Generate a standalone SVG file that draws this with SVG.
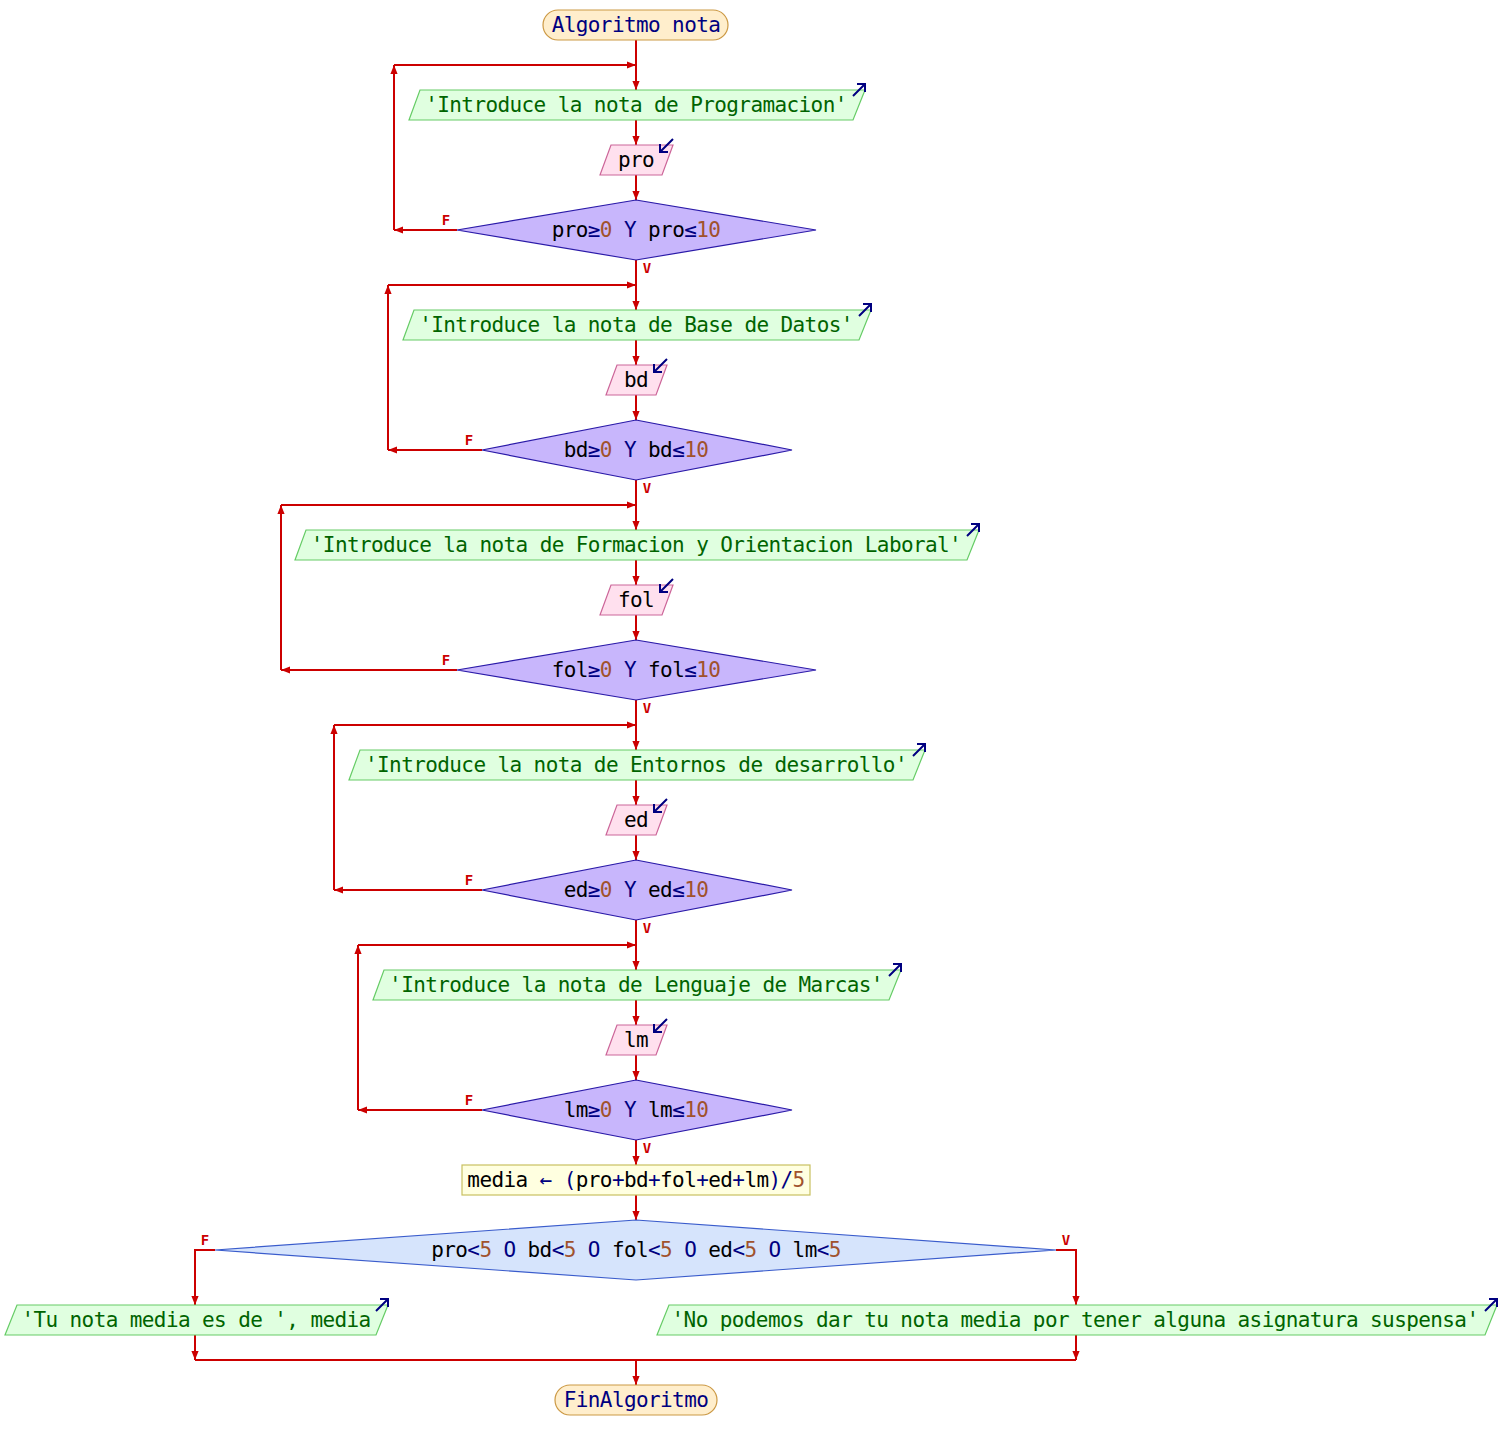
<svg xmlns="http://www.w3.org/2000/svg" width="1500" height="1450" viewBox="0 0 1500 1450">
<style>
text{font-family:"DejaVu Sans Mono","Liberation Mono",monospace;font-size:21px;letter-spacing:-0.6px;text-anchor:middle}
.term{fill:#ffeecc;stroke:#cc9944;stroke-width:1.2}
.tt{fill:#000080}
.out{fill:#e0ffe0;stroke:#66cc66;stroke-width:1.2}
.ot{fill:#006400}
.in{fill:#ffe0ee;stroke:#cc6699;stroke-width:1.2}
.it{fill:#000000}
.dec{fill:#c8b6fc;stroke:#2a1aa8;stroke-width:1.2}
.dec2{fill:#d6e4fc;stroke:#3a5ccc;stroke-width:1.2}
.proc{fill:#ffffe0;stroke:#c8c060;stroke-width:1.2}
.op{fill:#000080}
.num{fill:#a0522d}
.icon{fill:none;stroke:#000080;stroke-width:2}
.c line,.c polyline{fill:none;stroke:#cc0000;stroke-width:2}
.lbl{fill:#cc0000;font-size:14px;letter-spacing:0;font-weight:bold}
</style>
<defs>
<marker id="a" viewBox="0 0 10 10" refX="10" refY="5" markerWidth="9" markerHeight="9" orient="auto" markerUnits="userSpaceOnUse">
<path d="M0,1 L10,5 L0,9 z" fill="#cc0000"/>
</marker>
</defs>

<g id="connectors" class="c">
<line x1="636" y1="40" x2="636" y2="90" marker-end="url(#a)"/>
<line x1="636" y1="120" x2="636" y2="145" marker-end="url(#a)"/>
<line x1="636" y1="175" x2="636" y2="200" marker-end="url(#a)"/>
<line x1="457" y1="230" x2="394" y2="230" marker-end="url(#a)"/>
<line x1="394" y1="230" x2="394" y2="65" marker-end="url(#a)"/>
<line x1="394" y1="65" x2="636" y2="65" marker-end="url(#a)"/>

<line x1="636" y1="260" x2="636" y2="310" marker-end="url(#a)"/>
<line x1="636" y1="340" x2="636" y2="365" marker-end="url(#a)"/>
<line x1="636" y1="395" x2="636" y2="420" marker-end="url(#a)"/>
<line x1="482" y1="450" x2="388" y2="450" marker-end="url(#a)"/>
<line x1="388" y1="450" x2="388" y2="285" marker-end="url(#a)"/>
<line x1="388" y1="285" x2="636" y2="285" marker-end="url(#a)"/>

<line x1="636" y1="480" x2="636" y2="530" marker-end="url(#a)"/>
<line x1="636" y1="560" x2="636" y2="585" marker-end="url(#a)"/>
<line x1="636" y1="615" x2="636" y2="640" marker-end="url(#a)"/>
<line x1="457" y1="670" x2="281" y2="670" marker-end="url(#a)"/>
<line x1="281" y1="670" x2="281" y2="505" marker-end="url(#a)"/>
<line x1="281" y1="505" x2="636" y2="505" marker-end="url(#a)"/>

<line x1="636" y1="700" x2="636" y2="750" marker-end="url(#a)"/>
<line x1="636" y1="780" x2="636" y2="805" marker-end="url(#a)"/>
<line x1="636" y1="835" x2="636" y2="860" marker-end="url(#a)"/>
<line x1="482" y1="890" x2="334" y2="890" marker-end="url(#a)"/>
<line x1="334" y1="890" x2="334" y2="725" marker-end="url(#a)"/>
<line x1="334" y1="725" x2="636" y2="725" marker-end="url(#a)"/>

<line x1="636" y1="920" x2="636" y2="970" marker-end="url(#a)"/>
<line x1="636" y1="1000" x2="636" y2="1025" marker-end="url(#a)"/>
<line x1="636" y1="1055" x2="636" y2="1080" marker-end="url(#a)"/>
<line x1="482" y1="1110" x2="358" y2="1110" marker-end="url(#a)"/>
<line x1="358" y1="1110" x2="358" y2="945" marker-end="url(#a)"/>
<line x1="358" y1="945" x2="636" y2="945" marker-end="url(#a)"/>

<line x1="636" y1="1140" x2="636" y2="1165" marker-end="url(#a)"/>
<line x1="636" y1="1195" x2="636" y2="1220" marker-end="url(#a)"/>
<polyline points="215,1250 195,1250 195,1305" marker-end="url(#a)"/>
<polyline points="1056,1250 1076,1250 1076,1305" marker-end="url(#a)"/>
<line x1="195" y1="1335" x2="195" y2="1360" marker-end="url(#a)"/>
<line x1="1076" y1="1335" x2="1076" y2="1360" marker-end="url(#a)"/>
<line x1="195" y1="1360" x2="1076" y2="1360"/>
<line x1="636" y1="1360" x2="636" y2="1385" marker-end="url(#a)"/>

<text class="lbl" x="446" y="225">F</text>
<text class="lbl" x="647" y="273">V</text>
<text class="lbl" x="469" y="445">F</text>
<text class="lbl" x="647" y="493">V</text>
<text class="lbl" x="446" y="665">F</text>
<text class="lbl" x="647" y="713">V</text>
<text class="lbl" x="469" y="885">F</text>
<text class="lbl" x="647" y="933">V</text>
<text class="lbl" x="469" y="1105">F</text>
<text class="lbl" x="647" y="1153">V</text>
<text class="lbl" x="205" y="1245">F</text>
<text class="lbl" x="1066" y="1245">V</text>
</g>

<g id="start">
<rect class="term" x="543" y="10" width="185" height="30" rx="15"/>
<text class="tt" x="636" y="32">Algoritmo nota</text>
</g>

<g id="out1">
<polygon class="out" points="420,90 865,90 853,120 409,120"/>
<text class="ot" x="636" y="112">'Introduce la nota de Programacion'</text>
<path class="icon" d="M853,96 L865,84 M857,84 L865,84 L865,92"/>
</g>
<g id="in1">
<polygon class="in" points="611,145 673,145 662,175 600,175"/>
<text class="it" x="636" y="167">pro</text>
<path class="icon" d="M673,139 L660,152 M660,144 L660,152 L668,152"/>
</g>
<g id="dec1">
<polygon class="dec" points="636,200 816,230 636,260 457,230"/>
<text x="636" y="237"><tspan class="it">pro</tspan><tspan class="op">≥</tspan><tspan class="num">0</tspan><tspan class="op"> Y </tspan><tspan class="it">pro</tspan><tspan class="op">≤</tspan><tspan class="num">10</tspan></text>
</g>

<g id="out2">
<polygon class="out" points="414,310 871,310 859,340 403,340"/>
<text class="ot" x="636" y="332">'Introduce la nota de Base de Datos'</text>
<path class="icon" d="M859,316 L871,304 M863,304 L871,304 L871,312"/>
</g>
<g id="in2">
<polygon class="in" points="617,365 667,365 656,395 606,395"/>
<text class="it" x="636" y="387">bd</text>
<path class="icon" d="M667,359 L654,372 M654,364 L654,372 L662,372"/>
</g>
<g id="dec2">
<polygon class="dec" points="636,420 792,450 636,480 482,450"/>
<text x="636" y="457"><tspan class="it">bd</tspan><tspan class="op">≥</tspan><tspan class="num">0</tspan><tspan class="op"> Y </tspan><tspan class="it">bd</tspan><tspan class="op">≤</tspan><tspan class="num">10</tspan></text>
</g>

<g id="out3">
<polygon class="out" points="306,530 979,530 967,560 295,560"/>
<text class="ot" x="636" y="552">'Introduce la nota de Formacion y Orientacion Laboral'</text>
<path class="icon" d="M967,536 L979,524 M971,524 L979,524 L979,532"/>
</g>
<g id="in3">
<polygon class="in" points="611,585 673,585 662,615 600,615"/>
<text class="it" x="636" y="607">fol</text>
<path class="icon" d="M673,579 L660,592 M660,584 L660,592 L668,592"/>
</g>
<g id="dec3">
<polygon class="dec" points="636,640 816,670 636,700 457,670"/>
<text x="636" y="677"><tspan class="it">fol</tspan><tspan class="op">≥</tspan><tspan class="num">0</tspan><tspan class="op"> Y </tspan><tspan class="it">fol</tspan><tspan class="op">≤</tspan><tspan class="num">10</tspan></text>
</g>

<g id="out4">
<polygon class="out" points="360,750 925,750 913,780 349,780"/>
<text class="ot" x="636" y="772">'Introduce la nota de Entornos de desarrollo'</text>
<path class="icon" d="M913,756 L925,744 M917,744 L925,744 L925,752"/>
</g>
<g id="in4">
<polygon class="in" points="617,805 667,805 656,835 606,835"/>
<text class="it" x="636" y="827">ed</text>
<path class="icon" d="M667,799 L654,812 M654,804 L654,812 L662,812"/>
</g>
<g id="dec4">
<polygon class="dec" points="636,860 792,890 636,920 482,890"/>
<text x="636" y="897"><tspan class="it">ed</tspan><tspan class="op">≥</tspan><tspan class="num">0</tspan><tspan class="op"> Y </tspan><tspan class="it">ed</tspan><tspan class="op">≤</tspan><tspan class="num">10</tspan></text>
</g>

<g id="out5">
<polygon class="out" points="384,970 901,970 889,1000 373,1000"/>
<text class="ot" x="636" y="992">'Introduce la nota de Lenguaje de Marcas'</text>
<path class="icon" d="M889,976 L901,964 M893,964 L901,964 L901,972"/>
</g>
<g id="in5">
<polygon class="in" points="617,1025 667,1025 656,1055 606,1055"/>
<text class="it" x="636" y="1047">lm</text>
<path class="icon" d="M667,1019 L654,1032 M654,1024 L654,1032 L662,1032"/>
</g>
<g id="dec5">
<polygon class="dec" points="636,1080 792,1110 636,1140 482,1110"/>
<text x="636" y="1117"><tspan class="it">lm</tspan><tspan class="op">≥</tspan><tspan class="num">0</tspan><tspan class="op"> Y </tspan><tspan class="it">lm</tspan><tspan class="op">≤</tspan><tspan class="num">10</tspan></text>
</g>

<g id="proc">
<rect class="proc" x="462" y="1165" width="348" height="30"/>
<text x="636" y="1187"><tspan class="it">media </tspan><tspan class="op">←</tspan><tspan class="it"> </tspan><tspan class="op">(</tspan><tspan class="it">pro</tspan><tspan class="op">+</tspan><tspan class="it">bd</tspan><tspan class="op">+</tspan><tspan class="it">fol</tspan><tspan class="op">+</tspan><tspan class="it">ed</tspan><tspan class="op">+</tspan><tspan class="it">lm</tspan><tspan class="op">)/</tspan><tspan class="num">5</tspan></text>
</g>

<g id="dec6">
<polygon class="dec2" points="636,1220 1056,1250 636,1280 215,1250"/>
<text x="636" y="1257"><tspan class="it">pro</tspan><tspan class="op">&lt;</tspan><tspan class="num">5</tspan><tspan class="op"> O </tspan><tspan class="it">bd</tspan><tspan class="op">&lt;</tspan><tspan class="num">5</tspan><tspan class="op"> O </tspan><tspan class="it">fol</tspan><tspan class="op">&lt;</tspan><tspan class="num">5</tspan><tspan class="op"> O </tspan><tspan class="it">ed</tspan><tspan class="op">&lt;</tspan><tspan class="num">5</tspan><tspan class="op"> O </tspan><tspan class="it">lm</tspan><tspan class="op">&lt;</tspan><tspan class="num">5</tspan></text>
</g>

<g id="out6">
<polygon class="out" points="17,1305 388,1305 376,1335 5,1335"/>
<text class="ot" x="196" y="1327">'Tu nota media es de ', media</text>
<path class="icon" d="M376,1311 L388,1299 M380,1299 L388,1299 L388,1307"/>
</g>
<g id="out7">
<polygon class="out" points="669,1305 1497,1305 1485,1335 657,1335"/>
<text class="ot" x="1075" y="1327">'No podemos dar tu nota media por tener alguna asignatura suspensa'</text>
<path class="icon" d="M1485,1311 L1497,1299 M1489,1299 L1497,1299 L1497,1307"/>
</g>

<g id="end">
<rect class="term" x="555" y="1385" width="162" height="30" rx="15"/>
<text class="tt" x="636" y="1407">FinAlgoritmo</text>
</g>
</svg>
